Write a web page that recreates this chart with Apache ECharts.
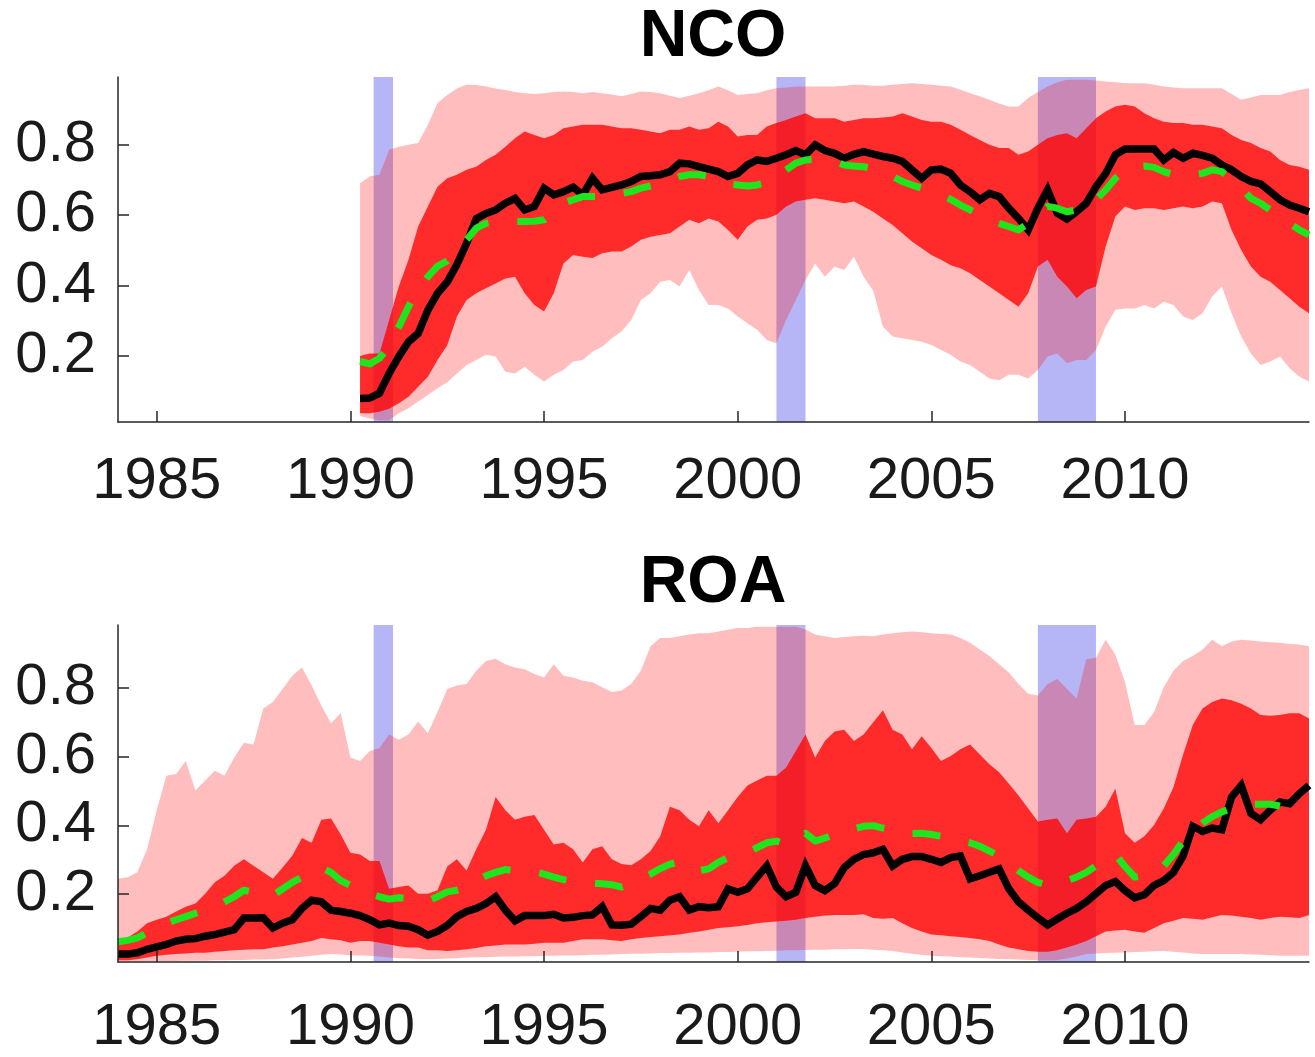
<!DOCTYPE html>
<html>
<head>
<meta charset="utf-8">
<title>NCO and ROA</title>
<script src="https://cdn.jsdelivr.net/npm/echarts@6/dist/echarts.min.js"></script>
<style>
  html, body { margin: 0; padding: 0; background: #fff; }
  #chart { width: 1315px; height: 1057px; }
</style>
</head>
<body>
<div id="chart"></div>
<script>
// ---- Data (quarterly) ----
// NCO panel: 1990Q2 .. 2014Q4
const ncoStart = 1990.25;
const ncoBlack = [
  0.079, 0.080, 0.094,
  0.150, 0.198, 0.240, 0.264,
  0.330, 0.378, 0.410, 0.460,
  0.520, 0.590, 0.605, 0.615,
  0.634, 0.648, 0.615, 0.625,
  0.677, 0.658, 0.667, 0.680,
  0.658, 0.705, 0.672, 0.679,
  0.686, 0.696, 0.710, 0.712,
  0.715, 0.724, 0.748, 0.746,
  0.738, 0.731, 0.724, 0.710,
  0.719, 0.743, 0.757, 0.753,
  0.762, 0.772, 0.784, 0.772,
  0.800, 0.784, 0.776, 0.762,
  0.773, 0.781, 0.774, 0.767,
  0.762, 0.753, 0.729, 0.705,
  0.729, 0.731, 0.719, 0.686,
  0.667, 0.644, 0.662, 0.653,
  0.620, 0.591, 0.558, 0.620,
  0.672, 0.606, 0.589, 0.610,
  0.634, 0.681, 0.719, 0.772,
  0.788, 0.788, 0.788, 0.788,
  0.757, 0.778, 0.762, 0.776,
  0.770, 0.762, 0.743, 0.729,
  0.710, 0.696, 0.689, 0.667,
  0.644, 0.629, 0.620, 0.610
];
const ncoGreen = [
  0.184, 0.177, 0.193,
  0.226, 0.283, 0.340, 0.387,
  0.425, 0.455, 0.470, 0.497,
  0.530, 0.563, 0.577, 0.582,
  0.582, 0.582, 0.582, 0.583,
  0.587, 0.610, 0.634, 0.644,
  0.653, 0.653, 0.653, 0.658,
  0.662, 0.667, 0.677, 0.683,
  0.689, 0.700, 0.710, 0.715,
  0.715, 0.710, 0.700, 0.689,
  0.686, 0.683, 0.686, 0.693,
  0.710, 0.729, 0.748, 0.757,
  0.759, 0.755, 0.753, 0.743,
  0.740, 0.738, 0.732, 0.719,
  0.710, 0.696, 0.686, 0.677,
  0.667, 0.658, 0.645, 0.629,
  0.615, 0.601, 0.587, 0.577,
  0.568, 0.558, 0.577, 0.601,
  0.625, 0.620, 0.610, 0.615,
  0.625, 0.644, 0.672, 0.705,
  0.729, 0.738, 0.740, 0.736,
  0.724, 0.715, 0.712, 0.715,
  0.719, 0.729, 0.724, 0.700,
  0.677, 0.648, 0.634, 0.615,
  0.596, 0.577, 0.558, 0.544
];
const ncoLo68 = [
  0.037, 0.037, 0.041,
  0.050, 0.065, 0.084, 0.112,
  0.141, 0.188, 0.230, 0.312,
  0.359, 0.378, 0.392, 0.406,
  0.420, 0.425, 0.378, 0.345,
  0.326, 0.378, 0.463, 0.487,
  0.482, 0.478, 0.492, 0.497,
  0.497, 0.511, 0.530, 0.539,
  0.544, 0.549, 0.568, 0.587,
  0.577, 0.591, 0.582, 0.558,
  0.530, 0.568, 0.587, 0.591,
  0.601, 0.625, 0.639, 0.644,
  0.648, 0.644, 0.639, 0.634,
  0.639, 0.625, 0.610, 0.591,
  0.572, 0.549, 0.525, 0.506,
  0.487, 0.473, 0.458, 0.449,
  0.435, 0.416, 0.397, 0.378,
  0.359, 0.340, 0.378, 0.454,
  0.473, 0.425, 0.397, 0.364,
  0.387, 0.397, 0.511, 0.596,
  0.625, 0.615, 0.620, 0.620,
  0.615, 0.620, 0.625, 0.620,
  0.625, 0.639, 0.634, 0.558,
  0.501, 0.454, 0.425, 0.411,
  0.387, 0.364, 0.340, 0.321
];
const ncoHi68 = [
  0.200, 0.207, 0.207,
  0.302, 0.397, 0.473, 0.568,
  0.625, 0.681, 0.705, 0.715,
  0.729, 0.738, 0.757, 0.772,
  0.795, 0.819, 0.838, 0.828,
  0.819, 0.828, 0.847, 0.852,
  0.857, 0.857, 0.857, 0.852,
  0.847, 0.847, 0.843, 0.838,
  0.833, 0.843, 0.843, 0.852,
  0.843, 0.847, 0.866, 0.852,
  0.824, 0.828, 0.828, 0.852,
  0.862, 0.871, 0.881, 0.890,
  0.876, 0.876, 0.876, 0.866,
  0.871, 0.876, 0.876, 0.878,
  0.881, 0.890, 0.881, 0.871,
  0.866, 0.866, 0.857, 0.843,
  0.828, 0.814, 0.800, 0.791,
  0.791, 0.772, 0.781, 0.800,
  0.819, 0.828, 0.833, 0.819,
  0.847, 0.876, 0.895, 0.909,
  0.914, 0.909, 0.890, 0.876,
  0.866, 0.862, 0.862, 0.857,
  0.857, 0.852, 0.847, 0.828,
  0.814, 0.805, 0.791, 0.781,
  0.757, 0.743, 0.738, 0.729
];
const ncoLo95 = [
  0.029, 0.022, 0.017,
  0.017, 0.037, 0.051, 0.070,
  0.089, 0.108, 0.125, 0.150,
  0.174, 0.188, 0.203, 0.198,
  0.155, 0.150, 0.169, 0.146,
  0.127, 0.146, 0.160, 0.184,
  0.188, 0.212, 0.226, 0.250,
  0.269, 0.302, 0.359, 0.378,
  0.411, 0.416, 0.397, 0.444,
  0.387, 0.345, 0.345, 0.335,
  0.312, 0.293, 0.274, 0.245,
  0.236, 0.302, 0.359, 0.416,
  0.463, 0.425, 0.454, 0.444,
  0.482, 0.425, 0.385, 0.283,
  0.255, 0.250, 0.245, 0.240,
  0.231, 0.217, 0.203, 0.184,
  0.174, 0.155, 0.136, 0.131,
  0.146, 0.146, 0.136, 0.160,
  0.198, 0.207, 0.179, 0.188,
  0.188, 0.217, 0.283, 0.331,
  0.335, 0.335, 0.345, 0.335,
  0.354, 0.345, 0.312, 0.302,
  0.321, 0.369, 0.397, 0.321,
  0.255, 0.207, 0.174, 0.184,
  0.198, 0.165, 0.141, 0.127
];
const ncoHi95 = [
  0.691, 0.710, 0.715,
  0.786, 0.795, 0.800, 0.805,
  0.857, 0.919, 0.942, 0.960,
  0.971, 0.970, 0.966, 0.960,
  0.956, 0.950, 0.947, 0.945,
  0.947, 0.950, 0.952, 0.950,
  0.947, 0.950, 0.947, 0.943,
  0.938, 0.945, 0.952, 0.950,
  0.947, 0.940, 0.933, 0.940,
  0.947, 0.955, 0.966, 0.955,
  0.942, 0.945, 0.947, 0.955,
  0.961, 0.963, 0.966, 0.966,
  0.966, 0.966, 0.966, 0.968,
  0.971, 0.971, 0.968, 0.968,
  0.971, 0.973, 0.975, 0.973,
  0.971, 0.968, 0.966, 0.957,
  0.947, 0.938, 0.928, 0.918,
  0.909, 0.909, 0.933, 0.950,
  0.966, 0.978, 0.985, 0.985,
  0.985, 0.983, 0.980, 0.978,
  0.975, 0.975, 0.975, 0.971,
  0.966, 0.963, 0.961, 0.961,
  0.961, 0.961, 0.961, 0.945,
  0.928, 0.935, 0.942, 0.942,
  0.942, 0.950, 0.956, 0.961
];

// ROA panel: 1984Q1 .. 2014Q4
const roaStart = 1984.0;
const roaBlack = [
  0.025, 0.025, 0.029, 0.039,
  0.046, 0.053, 0.063, 0.068,
  0.070, 0.077, 0.082, 0.089,
  0.096, 0.130, 0.130, 0.131,
  0.101, 0.115, 0.125, 0.158,
  0.182, 0.177, 0.153, 0.149,
  0.144, 0.137, 0.125, 0.110,
  0.115, 0.108, 0.106, 0.096,
  0.080, 0.091, 0.108, 0.134,
  0.149, 0.158, 0.172, 0.192,
  0.153, 0.122, 0.137, 0.137,
  0.137, 0.141, 0.130, 0.132,
  0.137, 0.139, 0.163, 0.110,
  0.109, 0.112, 0.134, 0.158,
  0.153, 0.182, 0.192, 0.153,
  0.163, 0.160, 0.163, 0.215,
  0.205, 0.215, 0.249, 0.282,
  0.220, 0.192, 0.205, 0.282,
  0.225, 0.210, 0.230, 0.277,
  0.301, 0.315, 0.320, 0.330,
  0.282, 0.301, 0.309, 0.309,
  0.301, 0.292, 0.306, 0.311,
  0.244, 0.253, 0.263, 0.273,
  0.215, 0.177, 0.153, 0.131,
  0.110, 0.127, 0.144, 0.158,
  0.177, 0.201, 0.225, 0.236,
  0.210, 0.189, 0.198, 0.225,
  0.239, 0.263, 0.311, 0.397,
  0.382, 0.392, 0.387, 0.482,
  0.516, 0.435, 0.416, 0.444,
  0.468, 0.463, 0.492, 0.516
];
const roaGreen = [
  0.061, 0.065, 0.072, 0.087,
  0.101, 0.115, 0.125, 0.134,
  0.144, 0.153, 0.163, 0.177,
  0.192, 0.211, 0.206, 0.196,
  0.196, 0.215, 0.234, 0.249,
  0.268, 0.277, 0.263, 0.239,
  0.225, 0.211, 0.201, 0.192,
  0.185, 0.189, 0.187, 0.180,
  0.180, 0.192, 0.206, 0.211,
  0.220, 0.239, 0.253, 0.263,
  0.271, 0.268, 0.268, 0.265,
  0.258, 0.249, 0.242, 0.239,
  0.234, 0.232, 0.230, 0.227,
  0.220, 0.230, 0.244, 0.258,
  0.274, 0.287, 0.294, 0.282,
  0.268, 0.273, 0.292, 0.306,
  0.311, 0.320, 0.335, 0.349,
  0.354, 0.344, 0.368, 0.377,
  0.354, 0.363, 0.373, 0.382,
  0.390, 0.397, 0.399, 0.392,
  0.387, 0.377, 0.376, 0.377,
  0.373, 0.368, 0.361, 0.354,
  0.349, 0.339, 0.325, 0.311,
  0.292, 0.268, 0.249, 0.234,
  0.225, 0.230, 0.239, 0.249,
  0.263, 0.282, 0.301, 0.315,
  0.280, 0.249, 0.254, 0.263,
  0.282, 0.315, 0.354, 0.382,
  0.406, 0.425, 0.439, 0.449,
  0.459, 0.461, 0.461, 0.461,
  0.456, null, null, null
];
const roaLo68 = [
  0.007, 0.007, 0.010, 0.015,
  0.020, 0.023, 0.025, 0.027,
  0.029, 0.029, 0.032, 0.034,
  0.036, 0.038, 0.039, 0.039,
  0.044, 0.048, 0.053, 0.058,
  0.063, 0.072, 0.068, 0.065,
  0.058, 0.063, 0.063, 0.058,
  0.053, 0.048, 0.044, 0.044,
  0.036, 0.036, 0.034, 0.036,
  0.039, 0.043, 0.048, 0.050,
  0.053, 0.053, 0.053, 0.055,
  0.058, 0.058, 0.058, 0.063,
  0.068, 0.068, 0.068, 0.065,
  0.063, 0.068, 0.072, 0.075,
  0.077, 0.080, 0.082, 0.087,
  0.091, 0.096, 0.101, 0.103,
  0.106, 0.110, 0.115, 0.118,
  0.120, 0.122, 0.125, 0.130,
  0.134, 0.137, 0.139, 0.139,
  0.139, 0.141, 0.130, 0.128,
  0.130, 0.115, 0.101, 0.091,
  0.082, 0.080, 0.077, 0.075,
  0.072, 0.068, 0.063, 0.053,
  0.044, 0.039, 0.034, 0.032,
  0.032, 0.036, 0.044, 0.053,
  0.063, 0.077, 0.091, 0.094,
  0.096, 0.091, 0.087, 0.101,
  0.115, 0.122, 0.130, 0.128,
  0.125, 0.132, 0.139, 0.137,
  0.134, 0.130, 0.125, 0.130,
  0.134, 0.132, 0.130, 0.139
];
const roaHi68 = [
  0.067, 0.073, 0.091, 0.115,
  0.125, 0.134, 0.149, 0.163,
  0.172, 0.201, 0.234, 0.253,
  0.282, 0.301, 0.282, 0.263,
  0.244, 0.277, 0.311, 0.363,
  0.349, 0.416, 0.420, 0.373,
  0.320, 0.315, 0.296, 0.296,
  0.215, 0.220, 0.225, 0.201,
  0.201, 0.211, 0.280, 0.301,
  0.268, 0.330, 0.387, 0.482,
  0.444, 0.416, 0.425, 0.430,
  0.387, 0.344, 0.349, 0.330,
  0.292, 0.330, 0.339, 0.301,
  0.287, 0.284, 0.301, 0.325,
  0.368, 0.454, 0.444, 0.416,
  0.397, 0.444, 0.406, 0.444,
  0.482, 0.516, 0.530, 0.544,
  0.544, 0.568, 0.616, 0.664,
  0.597, 0.645, 0.673, 0.678,
  0.645, 0.664, 0.700, 0.735,
  0.678, 0.664, 0.621, 0.659,
  0.625, 0.587, 0.602, 0.621,
  0.635, 0.606, 0.578, 0.554,
  0.521, 0.487, 0.449, 0.411,
  0.416, 0.420, 0.377, 0.416,
  0.420, 0.425, 0.454, 0.506,
  0.377, 0.349, 0.368, 0.401,
  0.449, 0.511, 0.606, 0.692,
  0.740, 0.759, 0.769, 0.764,
  0.754, 0.740, 0.721, 0.719,
  0.721, 0.726, 0.726, 0.711
];
const roaLo95 = [
  0.004, 0.004, 0.004, 0.005,
  0.005, 0.005, 0.005, 0.006,
  0.006, 0.006, 0.007, 0.007,
  0.008, 0.008, 0.009, 0.009,
  0.010, 0.012, 0.015, 0.017,
  0.020, 0.023, 0.025, 0.024,
  0.022, 0.021, 0.020, 0.018,
  0.015, 0.013, 0.012, 0.011,
  0.010, 0.011, 0.012, 0.013,
  0.015, 0.016, 0.016, 0.017,
  0.018, 0.018, 0.019, 0.019,
  0.020, 0.020, 0.021, 0.021,
  0.022, 0.023, 0.023, 0.024,
  0.025, 0.026, 0.026, 0.027,
  0.028, 0.028, 0.029, 0.029,
  0.030, 0.030, 0.031, 0.031,
  0.032, 0.033, 0.033, 0.034,
  0.035, 0.036, 0.036, 0.037,
  0.038, 0.038, 0.039, 0.039,
  0.040, 0.040, 0.038, 0.036,
  0.034, 0.030, 0.026, 0.023,
  0.020, 0.019, 0.018, 0.016,
  0.015, 0.014, 0.012, 0.011,
  0.010, 0.009, 0.008, 0.007,
  0.007, 0.008, 0.012, 0.018,
  0.025, 0.027, 0.028, 0.029,
  0.030, 0.031, 0.032, 0.033,
  0.034, 0.032, 0.030, 0.027,
  0.025, 0.025, 0.025, 0.025,
  0.025, 0.024, 0.023, 0.022,
  0.020, 0.020, 0.020, 0.020
];
const roaHi95 = [
  0.244, 0.249, 0.263, 0.330,
  0.444, 0.544, 0.549, 0.587,
  0.501, 0.530, 0.559, 0.544,
  0.597, 0.640, 0.635, 0.740,
  0.759, 0.797, 0.835, 0.859,
  0.807, 0.749, 0.697, 0.726,
  0.597, 0.587, 0.616, 0.625,
  0.664, 0.649, 0.664, 0.702,
  0.668, 0.730, 0.797, 0.807,
  0.811, 0.850, 0.878, 0.885,
  0.869, 0.859, 0.854, 0.840,
  0.830, 0.869, 0.835, 0.830,
  0.821, 0.816, 0.802, 0.788,
  0.792, 0.811, 0.850, 0.921,
  0.945, 0.945, 0.950, 0.955,
  0.959, 0.959, 0.964, 0.969,
  0.974, 0.974, 0.978, 0.978,
  0.978, 0.978, 0.978, 0.970,
  0.955, 0.950, 0.945, 0.948,
  0.950, 0.952, 0.950, 0.955,
  0.959, 0.962, 0.964, 0.962,
  0.959, 0.957, 0.955, 0.945,
  0.931, 0.912, 0.893, 0.869,
  0.845, 0.811, 0.783, 0.778,
  0.811, 0.826, 0.797, 0.769,
  0.883, 0.888, 0.940, 0.897,
  0.816, 0.692, 0.692, 0.730,
  0.802, 0.850, 0.878, 0.893,
  0.912, 0.940, 0.921, 0.935,
  0.940, 0.938, 0.935, 0.933,
  0.931, 0.928, 0.926, 0.921
];

// Recession periods (start, end), shaded in both panels
const recessions = [
  [1990.6, 1991.1],
  [2001.0, 2001.75],
  [2007.75, 2009.25]
];

// Axis ticks and limits
const xTicks = [1985, 1990, 1995, 2000, 2005, 2010];
const yTicks = [0.2, 0.4, 0.6, 0.8];
const xMin = 1984, xMax = 2014.75;
const ncoYMin = 0.012, ncoYMax = 0.993;
const roaYMin = 0.002, roaYMax = 0.983;
const titles = ['NCO', 'ROA'];

// ---- Helpers ----
function quarterDates(start, n) {
  const out = [];
  for (let i = 0; i < n; i++) out.push(start + i * 0.25);
  return out;
}
const ncoDates = quarterDates(ncoStart, ncoBlack.length);
const roaDates = quarterDates(roaStart, roaBlack.length);

const FONT = '"Liberation Sans", Arial, Helvetica, sans-serif';
const AXIS_COLOR = '#262626';
const LABEL_COLOR = '#1a1a1a';
const PINK = 'rgba(255, 0, 0, 0.26)';
const RED = 'rgba(255, 0, 0, 0.78)';
const BLUE = '#b6b6f6';
const GREEN = '#1ee61e';

// Filled band between two bounds, drawn as one polygon on the axis scales
function bandSeries(idx, dates, lo, hi, color, z) {
  return {
    type: 'custom',
    xAxisIndex: idx, yAxisIndex: idx,
    z: z, silent: true, animation: false,
    data: dates.map((d, i) => [d, lo[i], hi[i]]),
    encode: { x: 0, y: [1, 2] },
    renderItem: function (params, api) {
      if (params.dataIndex !== 0) return null;
      const upper = dates.map((d, i) => api.coord([d, hi[i]]));
      const lower = dates.map((d, i) => api.coord([d, lo[i]])).reverse();
      return {
        type: 'polygon',
        shape: { points: upper.concat(lower) },
        style: { fill: color }
      };
    }
  };
}

// Vertical shaded bars for recessions
function recessionSeries(idx, yMin, yMax) {
  return {
    type: 'custom',
    xAxisIndex: idx, yAxisIndex: idx,
    z: 1, silent: true, animation: false,
    data: recessions,
    encode: { x: [0, 1] },
    renderItem: function (params, api) {
      const p0 = api.coord([api.value(0), yMax]);
      const p1 = api.coord([api.value(1), yMin]);
      return {
        type: 'rect',
        shape: { x: p0[0], y: p0[1], width: p1[0] - p0[0], height: p1[1] - p0[1] },
        style: { fill: BLUE }
      };
    }
  };
}

function lineSeries(idx, dates, vals, style, z) {
  return {
    type: 'line',
    xAxisIndex: idx, yAxisIndex: idx,
    z: z, silent: true, animation: false,
    showSymbol: false, symbol: 'none',
    connectNulls: false,
    data: dates.map((d, i) => [d, vals[i]]),
    lineStyle: style
  };
}

function makeXAxis(idx, margin) {
  return {
    type: 'value', gridIndex: idx, min: xMin, max: xMax, z: 10,
    axisLine: { show: true, onZero: false, lineStyle: { color: AXIS_COLOR, width: 1.5 } },
    axisTick: { show: true, inside: true, length: 11, customValues: xTicks,
                lineStyle: { color: AXIS_COLOR, width: 1.5 } },
    axisLabel: { customValues: xTicks, margin: margin, fontSize: 58, fontFamily: FONT,
                 color: LABEL_COLOR, formatter: v => String(v) },
    splitLine: { show: false }
  };
}
function makeYAxis(idx, yMin, yMax) {
  return {
    type: 'value', gridIndex: idx, min: yMin, max: yMax, z: 10,
    axisLine: { show: true, onZero: false, lineStyle: { color: AXIS_COLOR, width: 1.5 } },
    axisTick: { show: true, inside: true, length: 11, customValues: yTicks,
                lineStyle: { color: AXIS_COLOR, width: 1.5 } },
    axisLabel: { customValues: yTicks, margin: 22, fontSize: 58, fontFamily: FONT,
                 color: LABEL_COLOR, formatter: v => v.toFixed(1) },
    splitLine: { show: false }
  };
}

const blackStyle = { color: '#000', width: 7.5, cap: 'butt', join: 'miter' };
const greenStyle = { color: GREEN, width: 7, type: [28, 29], cap: 'butt', join: 'round' };

const option = {
  animation: false,
  backgroundColor: '#fff',
  title: [
    { text: titles[0], left: 713, top: 5, textAlign: 'center', padding: 0,
      textStyle: { fontSize: 66, fontWeight: 'bold', fontFamily: FONT, color: '#000' } },
    { text: titles[1], left: 713, top: 551, textAlign: 'center', padding: 0,
      textStyle: { fontSize: 66, fontWeight: 'bold', fontFamily: FONT, color: '#000' } }
  ],
  grid: [
    { left: 118, top: 77, width: 1191, height: 345 },
    { left: 118, top: 625, width: 1191, height: 343 }
  ],
  xAxis: [makeXAxis(0, 31), makeXAxis(1, 37)],
  yAxis: [makeYAxis(0, ncoYMin, ncoYMax), makeYAxis(1, roaYMin, roaYMax)],
  series: [
    recessionSeries(0, ncoYMin, ncoYMax),
    bandSeries(0, ncoDates, ncoLo95, ncoHi95, PINK, 2),
    bandSeries(0, ncoDates, ncoLo68, ncoHi68, RED, 3),
    lineSeries(0, ncoDates, ncoBlack, blackStyle, 4),
    lineSeries(0, ncoDates, ncoGreen, greenStyle, 5),

    recessionSeries(1, roaYMin, roaYMax),
    bandSeries(1, roaDates, roaLo95, roaHi95, PINK, 2),
    bandSeries(1, roaDates, roaLo68, roaHi68, RED, 3),
    lineSeries(1, roaDates, roaBlack, blackStyle, 4),
    lineSeries(1, roaDates, roaGreen, greenStyle, 5)
  ]
};

const chart = echarts.init(document.getElementById('chart'), null, { renderer: 'canvas' });
chart.setOption(option);
</script>
</body>
</html>
